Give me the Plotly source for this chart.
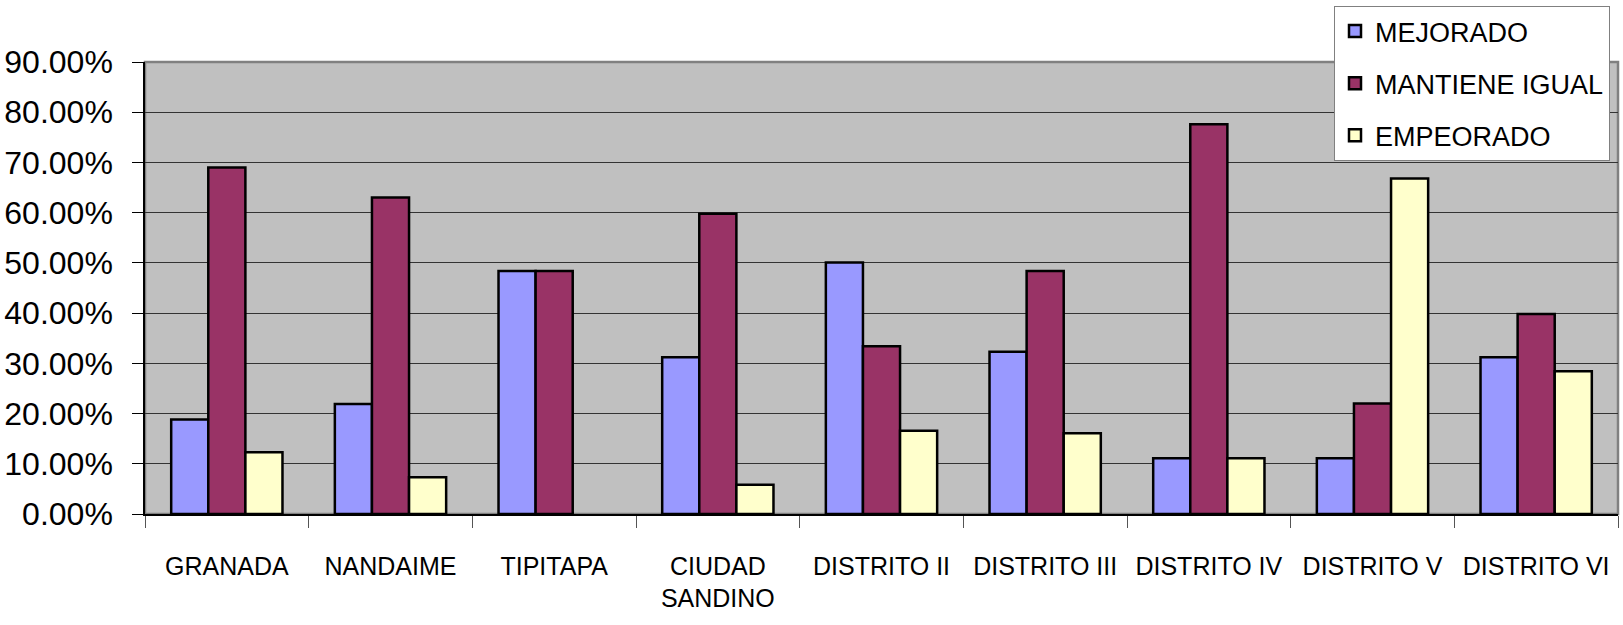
import plotly.graph_objects as go

categories = ["GRANADA", "NANDAIME", "TIPITAPA", "CIUDAD<br>SANDINO", "DISTRITO II",
              "DISTRITO III", "DISTRITO IV", "DISTRITO V", "DISTRITO VI"]
mejorado = [0.188, 0.219, 0.484, 0.312, 0.501, 0.323, 0.111, 0.111, 0.312]
mantiene = [0.690, 0.630, 0.484, 0.598, 0.334, 0.484, 0.776, 0.220, 0.398]
empeorado = [0.123, 0.073, 0.0, 0.058, 0.166, 0.161, 0.111, 0.668, 0.284]
series_names = ["MEJORADO", "MANTIENE IGUAL", "EMPEORADO"]
series_values = [mejorado, mantiene, empeorado]
colors = ["#9999FF", "#993366", "#FFFFCC"]

W, H = 1623, 625
L, R, T, B = 145, 5, 62, 111

fig = go.Figure()
for name, vals, col in zip(series_names, series_values, colors):
    fig.add_trace(go.Bar(
        x=categories, y=vals, name=name, legendgroup=name,
        marker=dict(color=col,
                    line=dict(color="black", width=[2.5 if v > 0 else 0 for v in vals])),
    ))

fig.update_layout(
    width=W, height=H,
    margin=dict(l=L, r=R, t=T, b=B, pad=0, autoexpand=False),
    paper_bgcolor="white",
    plot_bgcolor="#C0C0C0",
    barmode="group",
    bargap=0.32,
    bargroupgap=0,
    font=dict(family="Liberation Sans, Arial, sans-serif", color="black"),
    showlegend=True,
    legend=dict(
        xref="container", yref="container",
        x=1334 / W, xanchor="left",
        y=1 - 6 / H, yanchor="top",
        bgcolor="white", bordercolor="#808080", borderwidth=1,
        font=dict(size=27, family="Liberation Sans, Arial, sans-serif", color="black"),
        tracegroupgap=14,
        traceorder="grouped",
    ),
    xaxis=dict(
        type="category", automargin=False, tickangle=0,
        showline=True, linecolor="black", linewidth=1.5,
        ticks="outside", tickson="boundaries", ticklen=12, tickcolor="#555555", tickwidth=1,
        showgrid=False,
        tickfont=dict(size=25, family="Liberation Sans, Arial, sans-serif", color="black"),
        ticklabelstandoff=29,
    ),
    yaxis=dict(
        automargin=False,
        range=[0, 0.9], dtick=0.1, tick0=0, tickformat=".2%",
        showline=True, linecolor="black", linewidth=1.5,
        ticks="outside", ticklen=11, tickcolor="black", tickwidth=1,
        showgrid=True, gridcolor="#333333", gridwidth=1,
        zeroline=False,
        tickfont=dict(size=32, family="Liberation Sans, Arial, sans-serif", color="black"),
        ticklabelstandoff=13,
    ),
    shapes=[dict(type="rect", xref="paper", yref="paper", x0=0, x1=1, y0=0, y1=1,
                 line=dict(color="#808080", width=2.5), layer="below")],
)

fig.write_html("out.html", config={"displayModeBar": False},
               post_script="document.body.style.margin='0';document.body.style.overflow='hidden';")
